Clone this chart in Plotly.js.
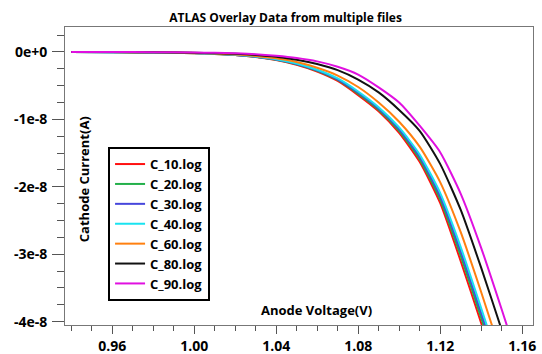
<!DOCTYPE html>
<html>
<head>
<meta charset="utf-8">
<script src="https://cdn.plot.ly/plotly-3.0.1.min.js"></script>
<style>
  html, body { margin: 0; padding: 0; background: #ffffff; }
  #chart { width: 542px; height: 354px; }
</style>
</head>
<body>
<div id="chart"></div>
<script>
// Anode voltage sweep (V), shared by every log file
const anodeVoltage = [0.94, 0.96, 0.98, 1.00, 1.01, 1.02, 1.03, 1.04, 1.05, 1.06, 1.07,
                      1.08, 1.09, 1.10, 1.11, 1.12, 1.13, 1.14, 1.15, 1.16];

// Cathode current for each log, in units of 1e-8 A
const c10 = [0, -0.003, -0.008, -0.019, -0.030, -0.047, -0.075, -0.120, -0.190, -0.290, -0.430,
             -0.640, -0.880, -1.200, -1.630, -2.240, -3.100, -4.020, -4.950, -5.900];
const c20 = [0, -0.003, -0.008, -0.018, -0.029, -0.045, -0.072, -0.116, -0.183, -0.280, -0.416,
             -0.619, -0.858, -1.170, -1.590, -2.185, -3.020, -3.940, -4.870, -5.820];
const c30 = [0, -0.003, -0.007, -0.017, -0.028, -0.044, -0.070, -0.112, -0.178, -0.272, -0.405,
             -0.602, -0.840, -1.145, -1.555, -2.137, -2.955, -3.870, -4.800, -5.750];
const c40 = [0, -0.003, -0.007, -0.017, -0.027, -0.042, -0.068, -0.108, -0.172, -0.264, -0.393,
             -0.586, -0.820, -1.120, -1.520, -2.090, -2.890, -3.800, -4.730, -5.680];
const c60 = [0, -0.002, -0.006, -0.015, -0.024, -0.037, -0.059, -0.095, -0.150, -0.235, -0.350,
             -0.520, -0.750, -1.035, -1.405, -1.930, -2.670, -3.560, -4.500, -5.450];
const c80 = [0, -0.002, -0.005, -0.012, -0.018, -0.028, -0.045, -0.072, -0.115, -0.180, -0.270,
             -0.410, -0.600, -0.860, -1.170, -1.660, -2.340, -3.200, -4.120, -5.050];
const c90 = [0, -0.001, -0.004, -0.009, -0.013, -0.020, -0.033, -0.057, -0.090, -0.140, -0.220,
             -0.335, -0.525, -0.750, -1.094, -1.487, -2.100, -2.905, -3.816, -4.760];

const seriesNames  = ['C_10.log', 'C_20.log', 'C_30.log', 'C_40.log', 'C_60.log', 'C_80.log', 'C_90.log'];
const seriesValues = [c10, c20, c30, c40, c60, c80, c90];
const seriesColors = ['#ff1010', '#22b04a', '#4646dc', '#19e3f0', '#ff8010', '#111111', '#e010e0'];

const currentUnit = 1e-8;

// axis tick labels
const yTickVals = [0, -1e-8, -2e-8, -3e-8, -4e-8];
const yTickText = ['0e+0', '-1e-8', '-2e-8', '-3e-8', '-4e-8'];
const xTickVals = [0.96, 1.00, 1.04, 1.08, 1.12, 1.16];
const xTickText = ['0.96', '1.00', '1.04', '1.08', '1.12', '1.16'];

const traces = seriesNames.map((name, i) => ({
  type: 'scatter',
  mode: 'lines',
  name: name,
  x: anodeVoltage,
  y: seriesValues[i].map(v => v * currentUnit),
  line: { color: seriesColors[i], width: 2, shape: 'spline', smoothing: 0.6 }
}));

const fontFamily = 'Open Sans, DejaVu Sans, sans-serif';
const boldFont = { family: fontFamily, size: 13, color: '#000000', weight: 700 };
const tickFont = { family: fontFamily, size: 14, color: '#000000', weight: 700 };

const layout = {
  width: 542,
  height: 354,
  margin: { l: 65, r: 9, t: 27, b: 29 },
  paper_bgcolor: '#ffffff',
  plot_bgcolor: '#ffffff',
  title: {
    text: 'ATLAS Overlay Data from multiple files',
    font: { family: fontFamily, size: 12, color: '#000000', weight: 700 },
    x: 0.527, xanchor: 'center', y: 0.95, yanchor: 'middle'
  },
  showlegend: true,
  legend: {
    x: 0.092, y: 0.597, xanchor: 'left', yanchor: 'top',
    bgcolor: '#ffffff',
    bordercolor: '#000000',
    borderwidth: 2,
    itemwidth: 30,
    font: boldFont,
    tracegroupgap: 0
  },
  xaxis: {
    range: [0.937, 1.1653],
    tickvals: xTickVals,
    ticktext: xTickText,
    ticks: 'outside',
    ticklen: 8,
    tickcolor: '#555555',
    tickfont: tickFont,
    showline: true,
    linecolor: '#777777',
    linewidth: 1,
    mirror: true,
    showgrid: false,
    zeroline: false,
    minor: { dtick: 0.01, tick0: 0.96, ticks: 'outside', ticklen: 5, tickcolor: '#555555', showgrid: false }
  },
  yaxis: {
    range: [-4.05e-8, 0.37e-8],
    tickvals: yTickVals,
    ticktext: yTickText,
    ticks: 'outside',
    ticklen: 12,
    tickcolor: '#555555',
    tickfont: tickFont,
    ticklabelstandoff: 2,
    showline: true,
    linecolor: '#777777',
    linewidth: 1,
    mirror: true,
    showgrid: false,
    zeroline: false,
    minor: { dtick: 0.25e-8, tick0: 0, ticks: 'outside', ticklen: 7, tickcolor: '#555555', showgrid: false }
  },
  annotations: [
    {
      text: 'Cathode Current(A)',
      xref: 'paper', yref: 'paper',
      x: 0.041, y: 0.49, xanchor: 'center', yanchor: 'middle',
      textangle: -90, showarrow: false, font: boldFont
    },
    {
      text: 'Anode Voltage(V)',
      xref: 'paper', yref: 'paper',
      x: 0.538, y: 0.05, xanchor: 'center', yanchor: 'middle',
      showarrow: false, font: boldFont
    }
  ]
};

Plotly.newPlot('chart', traces, layout, { displayModeBar: false, staticPlot: true });
</script>
</body>
</html>
